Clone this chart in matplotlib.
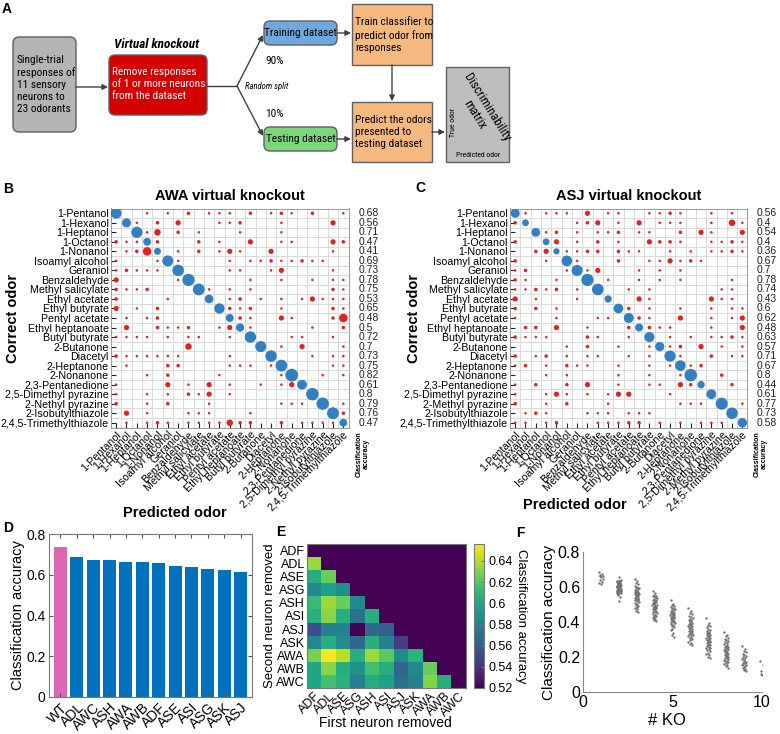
import numpy as np
import matplotlib
matplotlib.use("Agg")
import matplotlib.pyplot as plt
import matplotlib.transforms as mtransforms
from matplotlib import font_manager
from matplotlib.patches import FancyBboxPatch

plt.rcParams['font.family'] = ['Liberation Sans', 'DejaVu Sans']


# panel A text in the reference is condensed; use a narrow face when one exists
def pick_narrow():
    fonts = font_manager.fontManager.ttflist
    names = {f.name for f in fonts}
    for name in ['Liberation Sans Narrow', 'Roboto Condensed', 'Open Sans Condensed']:
        if name in names:
            return {'family': name}, 8.2
    for name in ['Noto Sans', 'DejaVu Sans', 'Open Sans', 'Roboto']:
        for f in fonts:
            if f.name == name and str(f.stretch) in ('condensed', 'semi-condensed'):
                return {'family': name, 'stretch': f.stretch}, 8
    return {'family': 'Liberation Sans'}, 7.2


A_FONT, A_SIZE = pick_narrow()

W, H = 780, 734

# ---------------- data ----------------
odors_awa = ['1-Pentanol', '1-Hexanol', '1-Heptanol', '1-Octanol', '1-Nonanol',
             'Isoamyl alcohol', 'Geraniol', 'Benzaldehyde', 'Methyl salicylate',
             'Ethyl acetate', 'Ethyl butyrate', 'Pentyl acetate', 'Ethyl heptanoate',
             'Butyl butyrate', '2-Butanone', 'Diacetyl', '2-Heptanone', '2-Nonanone',
             '2,3-Pentanedione', '2,5-Dimethyl pyrazine', '2-Nethyl pyrazine',
             '2-Isobutylthiazole', '2,4,5-Trimethylthiazole']
odors_asj = odors_awa[:20] + ['2-Methyl pyrazine'] + odors_awa[21:]

acc_awa = [0.68, 0.56, 0.71, 0.47, 0.41, 0.69, 0.73, 0.78, 0.75, 0.53, 0.65, 0.48,
           0.5, 0.72, 0.7, 0.73, 0.75, 0.82, 0.61, 0.8, 0.79, 0.76, 0.47]
acc_asj = [0.56, 0.4, 0.54, 0.4, 0.36, 0.67, 0.7, 0.78, 0.74, 0.43, 0.6, 0.62,
           0.48, 0.63, 0.57, 0.71, 0.67, 0.8, 0.44, 0.61, 0.77, 0.73, 0.58]

# confusion rows: '.' none, D = correct (diagonal), digits = confusion level
conf_awa = [
    "D..1.1.2.111.2.121.2..1",
    ".D1.2.3...112...1....3.",
    "..D14.2.1...1...1......",
    "211D2...2.1..3..11...32",
    ".125D.1.2.131..3.....1.",
    "1...1D1....1.11211211..",
    "12111.D....11..13....1.",
    "3.....1D.....1..1..1.11",
    "2112....D1.1.1.......21",
    "2....1...D.12.1.1.13111",
    "3.1.2.....D212..1....21",
    ".1.12......D21..31...25",
    ".3..2112..13D1.....1..2",
    "1111.1.11..1.D...11..1.",
    ".......4......D.1.3...1",
    "2111111....1...D...1.11",
    ".1...22....111.1D....11",
    "...1.2....1.....1D..1.1",
    "1....3.1.3.1..1.13D....",
    "1..1.1.213.1.......D...",
    "2..1.2...1......111.D.1",
    ".3.1...111...1.......D2",
    ".1.121.1111422..2.1111D",
]
conf_asj = [
    "D1.111.3.11..1121..1.1.",
    "2D....123.1.3.111..1.41",
    "..D12.1.112.11..2.31..3",
    "2..D3.1.2.1..3221..1121",
    "..23D1122.211..1.1.1121",
    "2..1.D1...2..113121....",
    "12...1D13...1.1.1......",
    "21..1..D.1..1.1.1....1.",
    "11212.1.D..1.1......11.",
    "3.1...1..D..31.....311.",
    "2.2.1.....D2.1..1..1.11",
    "1...1...11.D21..3..1.13",
    ".22.3..1...2D211...1..3",
    "2111...21..1.D.1.1.1121",
    ".....1.2..1..1D12.3.1.1",
    "2.12.1.11..1.1.D1..2.11",
    "12.1.211..1..1.1D12....",
    "...1.1....1..1..1D..2..",
    "1.2..2.3..1..11.32D..2.",
    "1..131.1.133...1...D...",
    "2..1.2...1......111.D.1",
    ".121...111.111.......D.",
    "11.12...11122.1.1.111.D",
]
level_value = {'1': 0.10, '2': 0.17, '3': 0.29, '4': 0.38, '5': 0.52}

ko_labels = ['WT', 'ADL', 'AWC', 'ASH', 'AWA', 'AWB', 'ADF', 'ASE', 'ASI', 'ASG', 'ASK', 'ASJ']
ko_acc = [0.735, 0.687, 0.672, 0.670, 0.665, 0.662, 0.658, 0.643, 0.640, 0.629, 0.624, 0.615]

neurons = ['ADF', 'ADL', 'ASE', 'ASG', 'ASH', 'ASI', 'ASJ', 'ASK', 'AWA', 'AWB', 'AWC']
pair_acc = [
    [],
    [0.635],
    [0.605, 0.625],
    [0.585, 0.597, 0.588],
    [0.612, 0.636, 0.625, 0.585],
    [0.606, 0.632, 0.606, 0.570, 0.606],
    [0.552, 0.580, 0.580, 0.520, 0.566, 0.562],
    [0.583, 0.606, 0.588, 0.566, 0.606, 0.580, 0.545],
    [0.628, 0.655, 0.642, 0.606, 0.636, 0.622, 0.585, 0.607],
    [0.600, 0.632, 0.605, 0.590, 0.615, 0.605, 0.565, 0.583, 0.625],
    [0.600, 0.615, 0.607, 0.580, 0.605, 0.598, 0.570, 0.580, 0.630, 0.605],
]

# accuracy after knocking out n neurons
ko3 = [0.648, 0.632, 0.621, 0.615, 0.608, 0.601, 0.597, 0.592, 0.588, 0.584, 0.580, 0.577,
       0.573, 0.570, 0.567, 0.564, 0.561, 0.558, 0.555, 0.552, 0.549, 0.546, 0.543, 0.540,
       0.537, 0.534, 0.531, 0.527, 0.523, 0.519, 0.515, 0.510, 0.505, 0.499, 0.493, 0.487,
       0.480, 0.472, 0.465, 0.457]
ko4 = [0.578, 0.565, 0.557, 0.551, 0.546, 0.541, 0.536, 0.532, 0.528, 0.524, 0.520, 0.516,
       0.512, 0.509, 0.506, 0.503, 0.500, 0.497, 0.494, 0.491, 0.488, 0.485, 0.482, 0.479,
       0.476, 0.472, 0.468, 0.464, 0.460, 0.456, 0.452, 0.447, 0.442, 0.437, 0.432, 0.427,
       0.421, 0.415, 0.410, 0.404]
ko5 = [0.524, 0.505, 0.497, 0.491, 0.486, 0.481, 0.476, 0.472, 0.468, 0.464, 0.460, 0.457,
       0.454, 0.451, 0.448, 0.445, 0.442, 0.439, 0.436, 0.433, 0.430, 0.427, 0.424, 0.421,
       0.418, 0.414, 0.410, 0.406, 0.402, 0.398, 0.393, 0.388, 0.383, 0.377, 0.370, 0.362,
       0.352, 0.340, 0.328, 0.315]
ko6 = [0.478, 0.462, 0.452, 0.444, 0.437, 0.431, 0.425, 0.419, 0.414, 0.409, 0.404, 0.399,
       0.395, 0.391, 0.387, 0.383, 0.379, 0.375, 0.371, 0.367, 0.363, 0.359, 0.355, 0.351,
       0.347, 0.343, 0.339, 0.335, 0.331, 0.327, 0.323, 0.318, 0.313, 0.307, 0.301, 0.295,
       0.288, 0.281, 0.274, 0.268]
ko7 = [0.425, 0.395, 0.384, 0.376, 0.369, 0.362, 0.356, 0.350, 0.345, 0.340, 0.335, 0.331,
       0.327, 0.323, 0.319, 0.315, 0.311, 0.307, 0.303, 0.299, 0.295, 0.291, 0.287, 0.283,
       0.279, 0.275, 0.271, 0.267, 0.263, 0.259, 0.254, 0.249, 0.244, 0.238, 0.232, 0.225,
       0.218, 0.210, 0.202, 0.194]
ko8 = [0.345, 0.328, 0.318, 0.310, 0.303, 0.296, 0.290, 0.284, 0.279, 0.274, 0.269, 0.264,
       0.260, 0.256, 0.252, 0.248, 0.244, 0.240, 0.236, 0.232, 0.228, 0.224, 0.220, 0.216,
       0.212, 0.208, 0.204, 0.200, 0.196, 0.192, 0.188, 0.184, 0.180, 0.175, 0.170, 0.165,
       0.159, 0.153, 0.146, 0.138]
ko9 = [0.262, 0.248, 0.236, 0.226, 0.218, 0.211, 0.204, 0.198, 0.192, 0.187, 0.182, 0.177,
       0.172, 0.168, 0.164, 0.160, 0.156, 0.152, 0.148, 0.144, 0.139, 0.134, 0.127, 0.119]
ko10 = [0.175, 0.152, 0.118, 0.112, 0.105, 0.100, 0.097]
jitter = [-0.11, 0.04, -0.03, 0.09, -0.07, 0.01, 0.12, -0.05, 0.06, -0.10, 0.02, -0.01,
          0.08, -0.08, 0.05, -0.04, 0.11, -0.12, 0.03, 0.00, -0.06, 0.07, -0.02, 0.10,
          -0.09, 0.05, -0.03, 0.08, -0.07, 0.02, 0.12, -0.11, 0.04, -0.05, 0.09, -0.01]

RED = '#E3221F'
BLUE = '#3280C0'


def px_rect(l, t, r, b):
    return [l / W, 1 - b / H, (r - l) / W, (b - t) / H]


fig = plt.figure(figsize=(W / 100, H / 100), dpi=100)

# ---------------- panel A: flow chart ----------------
axa = fig.add_axes([0, 1 - 180 / H, 1, 180 / H])
axa.set_xlim(0, W)
axa.set_ylim(180, 0)
axa.axis('off')


def box(l, t, r, b, fc, rounded=True):
    style = 'round,pad=0,rounding_size=6' if rounded else 'square,pad=0'
    axa.add_patch(FancyBboxPatch((l, t), r - l, b - t, boxstyle=style,
                                 fc=fc, ec='#606060', lw=1))


def arrow(x0, y0, x1, y1):
    axa.annotate('', xy=(x1, y1), xytext=(x0, y0),
                 arrowprops=dict(arrowstyle='-|>', color='#404040', lw=1,
                                 mutation_scale=8, shrinkA=0, shrinkB=0))


def atext(x, y, s, size=A_SIZE, **kw):
    axa.text(x, y, s, fontsize=size, linespacing=17 / (size * 1.39 * 1.17),
             **A_FONT, **kw)


box(13, 37, 76, 132, '#B4B4B4')
box(109, 55, 207, 115, '#D40000')
box(264, 21, 337, 45, '#6FA8DC')
box(264, 127, 337, 151, '#7AD77A')
box(352, 4, 432, 65, '#F5B97F', rounded=False)
box(352, 102, 432, 162, '#F5B97F', rounded=False)
box(446, 67, 509, 162, '#BEBEBE', rounded=False)

atext(17, 84.5, 'Single-trial\nresponses of\n11 sensory\nneurons to\n23 odorants',
      ha='left', va='center')
atext(157, 44, 'Virtual knockout', size=A_SIZE + 1.3, ha='center', va='center',
      fontweight='bold', fontstyle='italic')
atext(112, 84, 'Remove responses\nof 1 or more neurons\nfrom the dataset',
      ha='left', va='center', color='white')
atext(300.5, 33, 'Training dataset', ha='center', va='center')
atext(300.5, 139, 'Testing dataset', ha='center', va='center')
atext(355, 35, 'Train classifier to\npredict odor from\nresponses', ha='left', va='center')
atext(355, 132, 'Predict the odors\npresented to\ntesting dataset', ha='left', va='center')
atext(265, 61, '90%', ha='left', va='center')
atext(265, 114, '10%', ha='left', va='center')
atext(245, 86.5, 'Random split', size=A_SIZE - 2, ha='left', va='center',
      fontstyle='italic')
axa.text(481, 111, 'Discriminability\nmatrix', ha='center', va='center',
         fontsize=A_SIZE + 1, rotation=-58, linespacing=1.1, **A_FONT)
axa.text(453, 122, 'True odor', ha='center', va='center', fontsize=5.5,
         rotation=90, **A_FONT)
axa.text(478, 155, 'Predicted odor', ha='center', va='center', fontsize=5.5, **A_FONT)

arrow(76, 87, 108, 87)
axa.plot([207, 237], [86, 86], color='#404040', lw=1)
arrow(237, 86, 263, 35)
arrow(237, 86, 263, 136)
arrow(337, 33, 351, 33)
arrow(392, 65, 392, 101)
arrow(337, 139, 351, 139)
arrow(432, 132, 445, 132)


# ---------------- panels B and C: discriminability matrices ----------------
def draw_matrix(rect, rows, acc, labels, title, acc_x, ylab_x, xlab_xy):
    ax = fig.add_axes(px_rect(*rect))
    aw, ah = rect[2] - rect[0], rect[3] - rect[1]
    n = len(labels)
    xs, ys, vals, cols = [], [], [], []
    for i, row in enumerate(rows):
        for j, ch in enumerate(row):
            if ch == 'D':
                xs.append(j); ys.append(i); vals.append(acc[i]); cols.append(BLUE)
            elif ch != '.':
                xs.append(j); ys.append(i); vals.append(level_value[ch]); cols.append(RED)
    diam = 1.1 + 14.3 * np.array(vals)
    ax.scatter(xs, ys, s=(diam * 0.72) ** 2, c=cols, linewidths=0, zorder=3)
    ax.set_xlim(-0.5, n - 0.5)
    ax.set_ylim(n - 0.5, -0.5)
    ax.set_xticks(np.arange(n))
    ax.set_yticks(np.arange(n))
    ax.set_xticks(np.arange(n + 1) - 0.5, minor=True)
    ax.set_yticks(np.arange(n + 1) - 0.5, minor=True)
    ax.grid(which='minor', color='#D9D9D9', lw=0.7)
    ax.set_axisbelow(True)
    ax.tick_params(which='minor', length=0)
    ax.tick_params(which='major', direction='in', length=3.5, width=0.8, pad=1.5,
                   color='#222222')
    ax.set_yticklabels(labels, fontsize=7.7)
    ax.set_xticklabels(labels, fontsize=7.7, rotation=45, ha='right',
                       rotation_mode='anchor')
    for sp in ax.spines.values():
        sp.set_color('#9A9A9A')
        sp.set_linewidth(0.7)
    ax.set_title(title, fontsize=10.5, fontweight='bold', pad=6)
    ax.set_ylabel('Correct odor', fontsize=10.5, fontweight='bold')
    ax.yaxis.set_label_coords((ylab_x - rect[0]) / aw, 0.5)
    ax.set_xlabel('Predicted odor', fontsize=10.5, fontweight='bold')
    ax.xaxis.set_label_coords((xlab_xy[0] - rect[0]) / aw, (rect[3] - xlab_xy[1]) / ah)
    trans = mtransforms.blended_transform_factory(ax.transAxes, ax.transData)
    for i, a in enumerate(acc):
        ax.text((acc_x - rect[0]) / aw, i, str(a), transform=trans,
                ha='left', va='center', fontsize=7.5, color='#222222')
    fig.text((acc_x + 4) / W, 1 - 431 / H, 'Classification\naccuracy', rotation=90,
             ha='center', va='top', fontsize=5, fontweight='bold', linespacing=1.0)
    return ax


draw_matrix((111, 208.5, 348.5, 427.5), conf_awa, acc_awa, odors_awa,
            'AWA virtual knockout', 359, 20, (175, 506))
draw_matrix((510, 208.5, 747.5, 427.5), conf_asj, acc_asj, odors_asj,
            'ASJ virtual knockout', 757, 421, (575, 498))

# ---------------- panel D: single knockouts ----------------
d_rect = (49, 534, 252, 697)
axd = fig.add_axes(px_rect(*d_rect))
bar_cols = ['#DD66B3'] + ['#0072BD'] * (len(ko_labels) - 1)
axd.bar(np.arange(len(ko_labels)), ko_acc, width=0.8, color=bar_cols)
axd.set_xlim(-0.7, len(ko_labels) - 0.3)
axd.set_ylim(0, 0.8)
axd.set_yticks([0, 0.2, 0.4, 0.6, 0.8])
axd.set_yticklabels(['0', '0.2', '0.4', '0.6', '0.8'])
axd.set_xticks(np.arange(len(ko_labels)))
axd.set_xticklabels(ko_labels, rotation=45, ha='right', rotation_mode='anchor')
axd.tick_params(direction='in', top=True, right=True, labelsize=10, length=3,
                color='#555555', pad=2.5)
axd.set_ylabel('Classification accuracy', fontsize=10.5)
axd.yaxis.set_label_coords((25 - d_rect[0]) / (d_rect[2] - d_rect[0]), 0.5)
for sp in axd.spines.values():
    sp.set_color('#777777')

# ---------------- panel E: double knockouts ----------------
e_rect = (307, 544, 466, 688)
axe = fig.add_axes(px_rect(*e_rect))
n_neur = len(neurons)
pair_mat = np.full((n_neur, n_neur), 0.52)
for r, row in enumerate(pair_acc):
    pair_mat[r, :len(row)] = row
im = axe.imshow(pair_mat, cmap='viridis', vmin=0.52, vmax=0.656, aspect='auto',
                interpolation='nearest')
axe.set_xticks(np.arange(n_neur))
axe.set_yticks(np.arange(n_neur))
axe.set_xticklabels(neurons, rotation=45, ha='right', rotation_mode='anchor')
axe.set_yticklabels(neurons)
axe.tick_params(length=0, labelsize=9, pad=1.5)
axe.set_xlabel('First neuron removed', fontsize=10)
axe.xaxis.set_label_coords(0.49, (e_rect[3] - 716) / (e_rect[3] - e_rect[1]))
axe.set_ylabel('Second neuron removed', fontsize=9.5)
axe.yaxis.set_label_coords((276 - e_rect[0]) / (e_rect[2] - e_rect[0]), 0.5)
for sp in axe.spines.values():
    sp.set_color('#777777')
cax = fig.add_axes(px_rect(474, 544, 484, 688))
cb = fig.colorbar(im, cax=cax, ticks=[0.52, 0.54, 0.56, 0.58, 0.6, 0.62, 0.64])
cb.ax.set_yticklabels(['0.52', '0.54', '0.56', '0.58', '0.6', '0.62', '0.64'])
cb.ax.tick_params(labelsize=9, direction='in', length=2, color='#777777')
cb.outline.set_edgecolor('#777777')
cb.set_label('Classification accuracy', fontsize=9.5, rotation=270, labelpad=10)

# ---------------- panel F: accuracy vs number of knockouts ----------------
f_rect = (583, 552, 762, 692)
axf = fig.add_axes(px_rect(*f_rect))
groups = [ko_acc[1:], [v for row in pair_acc for v in row], ko3, ko4, ko5, ko6, ko7,
          ko8, ko9, ko10]
for k, vals in enumerate(groups, start=1):
    xs = [k + jitter[i % len(jitter)] for i in range(len(vals))]
    axf.plot(xs, vals, ls='none', marker='o', ms=1.7, mew=0, color='#707070')
axf.set_xlim(0, 10)
axf.set_ylim(0, 0.8)
axf.set_xticks([0, 5, 10])
axf.set_yticks([0, 0.2, 0.4, 0.6, 0.8])
axf.set_yticklabels(['0', '0.2', '0.4', '0.6', '0.8'])
axf.tick_params(labelsize=11.5, length=0, pad=2)
axf.spines['top'].set_visible(False)
axf.spines['right'].set_visible(False)
axf.spines['left'].set_color('#888888')
axf.spines['bottom'].set_color('#888888')
axf.set_xlabel('# KO', fontsize=12)
axf.xaxis.set_label_coords(0.47, (f_rect[3] - 713) / (f_rect[3] - f_rect[1]))
axf.set_ylabel('Classification accuracy', fontsize=11)
axf.yaxis.set_label_coords((556 - f_rect[0]) / (f_rect[2] - f_rect[0]), 0.5)

# panel letters
for letter, x, y in [('A', 7, 9), ('B', 8, 189), ('C', 420, 188), ('D', 8, 528),
                     ('E', 281, 532), ('F', 520, 533)]:
    fig.text(x / W, 1 - y / H, letter, fontsize=10, fontweight='bold',
             ha='center', va='center')

fig.savefig('out.png', dpi=100)
